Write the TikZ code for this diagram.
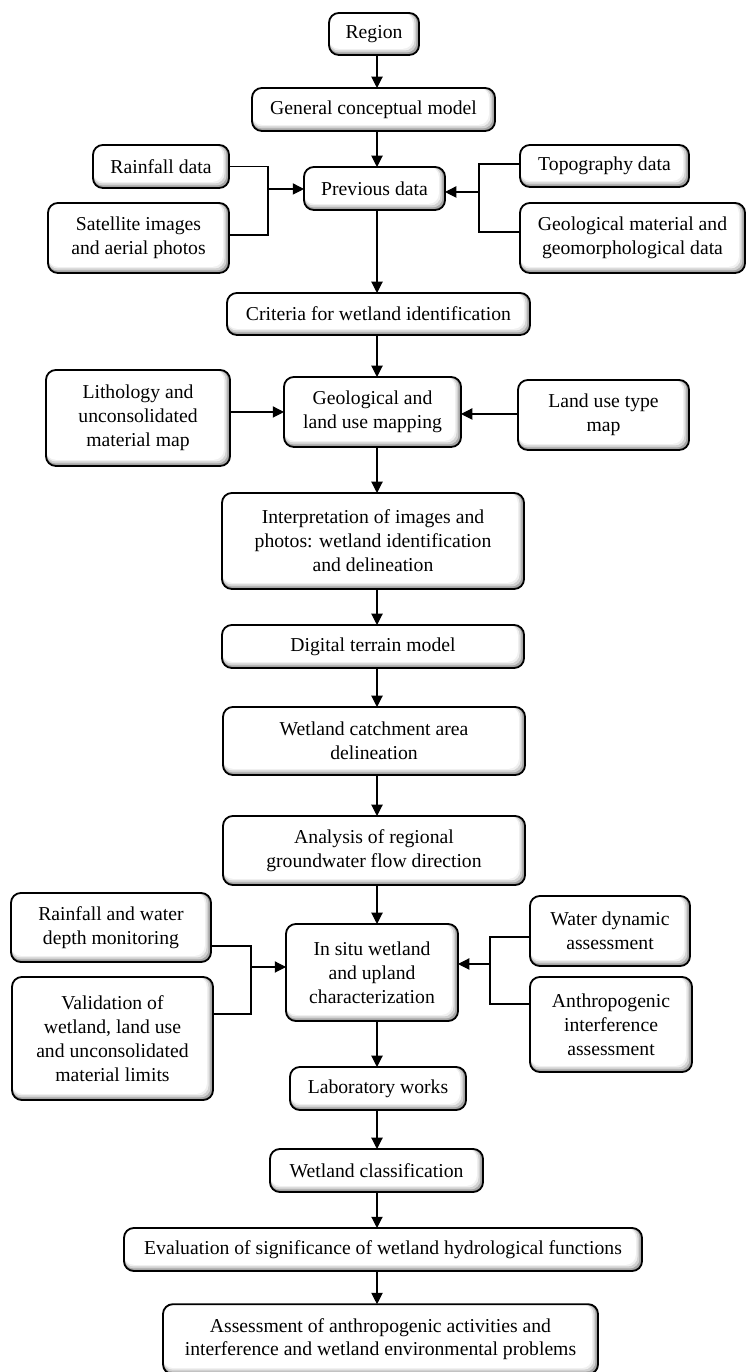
\documentclass[tikz,border=0pt]{standalone}
\usepackage{fontspec}
\setmainfont{Liberation Serif}
\usetikzlibrary{arrows.meta}
\tikzset{
  stepbox/.style={draw, line width=1.3pt, rounded corners=7pt, align=center, inner sep=0pt, outer sep=0pt,
    font=\fontsize{14}{17}\selectfont,
    path picture={
      \fill[gray!70] (path picture bounding box.south west) rectangle (path picture bounding box.north east);
      \fill[gray!35, rounded corners=7pt] ([yshift=1.8pt]path picture bounding box.south west) rectangle ([xshift=-1.8pt]path picture bounding box.north east);
      \fill[gray!12, rounded corners=7pt] ([yshift=3.2pt]path picture bounding box.south west) rectangle ([xshift=-3.2pt]path picture bounding box.north east);
      \fill[white, rounded corners=7pt] ([yshift=4.4pt]path picture bounding box.south west) rectangle ([xshift=-4.4pt]path picture bounding box.north east);
    }},
  arr/.style={-{Triangle[length=8pt,width=8pt]}, line width=0.8pt},
  link/.style={line width=0.8pt}
}
\begin{document}
\begin{tikzpicture}
\useasboundingbox (0,0) rectangle (18.675,34.3);
\coordinate (cx) at (9.425,0);
\node[stepbox,minimum width=2.25cm,minimum height=1.05cm] (region) at (9.35,33.45) {Region};
\node[stepbox,minimum width=6.075cm,minimum height=1.075cm] (gcm) at (9.3375,31.5625) {General conceptual model};
\node[stepbox,minimum width=3.4cm,minimum height=1.075cm] (rain) at (4.025,30.1375) {Rainfall data};
\node[stepbox,minimum width=4.525cm,minimum height=1.75cm] (sat) at (3.4625,28.35) {Satellite images\\and aerial photos};
\node[stepbox,minimum width=3.525cm,minimum height=1.075cm] (prev) at (9.3625,29.5875) {Previous data};
\node[stepbox,minimum width=4.225cm,minimum height=1.05cm] (topo) at (15.1125,30.15) {Topography data};
\node[stepbox,minimum width=5.625cm,minimum height=1.75cm] (geo) at (15.8125,28.35) {Geological material and\\geomorphological data};
\node[stepbox,minimum width=7.575cm,minimum height=1.05cm] (crit) at (9.4625,26.45) {Criteria for wetland identification};
\node[stepbox,minimum width=4.6cm,minimum height=2.4cm] (lith) at (3.45,23.85) {Lithology and\\unconsolidated\\material map};
\node[stepbox,minimum width=4.425cm,minimum height=1.75cm] (map) at (9.3125,24.0) {Geological and\\land use mapping};
\node[stepbox,minimum width=4.275cm,minimum height=1.75cm] (landuse) at (15.0875,23.925) {Land use type\\map};
\node[stepbox,minimum width=7.55cm,minimum height=2.4cm] (interp) at (9.325,20.775) {Interpretation of images and\\photos: wetland identification\\and delineation};
\node[stepbox,minimum width=7.55cm,minimum height=1.075cm] (dtm) at (9.325,18.1375) {Digital terrain model};
\node[stepbox,minimum width=7.55cm,minimum height=1.7cm] (catch) at (9.35,15.775) {Wetland catchment area\\delineation};
\node[stepbox,minimum width=7.55cm,minimum height=1.725cm] (flow) at (9.35,13.0375) {Analysis of regional\\groundwater flow direction};
\node[stepbox,minimum width=5.0cm,minimum height=1.725cm] (rainmon) at (2.775,11.1125) {Rainfall and water\\depth monitoring};
\node[stepbox,minimum width=5.025cm,minimum height=3.075cm] (valid) at (2.8125,8.3375) {Validation of\\wetland, land use\\and unconsolidated\\material limits};
\node[stepbox,minimum width=4.3cm,minimum height=2.425cm] (insitu) at (9.3,9.9875) {In situ wetland\\and upland\\characterization};
\node[stepbox,minimum width=4.0cm,minimum height=1.75cm] (waterdyn) at (15.25,11.025) {Water dynamic\\assessment};
\node[stepbox,minimum width=4.05cm,minimum height=2.375cm] (anthro) at (15.275,8.6875) {Anthropogenic\\interference\\assessment};
\node[stepbox,minimum width=4.4cm,minimum height=1.075cm] (lab) at (9.45,7.0875) {Laboratory works};
\node[stepbox,minimum width=5.325cm,minimum height=1.075cm] (classif) at (9.4125,5.0375) {Wetland classification};
\node[stepbox,minimum width=12.95cm,minimum height=1.075cm] (evalu) at (9.575,3.0625) {Evaluation of significance of wetland hydrological functions};
\node[stepbox,minimum width=10.875cm,minimum height=1.75cm] (assess) at (9.5125,0.82) {Assessment of anthropogenic activities and\\interference and wetland environmental problems};

\draw[arr] (region.south -| cx) -- (gcm.north -| cx);
\draw[arr] (gcm.south -| cx) -- (prev.north -| cx);
\draw[arr] (prev.south -| cx) -- (crit.north -| cx);
\draw[arr] (crit.south -| cx) -- (map.north -| cx);
\draw[arr] (map.south -| cx) -- (interp.north -| cx);
\draw[arr] (interp.south -| cx) -- (dtm.north -| cx);
\draw[arr] (dtm.south -| cx) -- (catch.north -| cx);
\draw[arr] (catch.south -| cx) -- (flow.north -| cx);
\draw[arr] (flow.south -| cx) -- (insitu.north -| cx);
\draw[arr] (insitu.south -| cx) -- (lab.north -| cx);
\draw[arr] (lab.south -| cx) -- (classif.north -| cx);
\draw[arr] (classif.south -| cx) -- (evalu.north -| cx);
\draw[arr] (evalu.south -| cx) -- (assess.north -| cx);

\coordinate (jl) at (6.7,29.575);
\coordinate (jr) at (11.975,29.5);
\draw[link] (rain.east) -| (jl) |- ([yshift=0.075cm]sat.east);
\draw[arr] (jl) -- (jl -| prev.west);
\draw[link] ([yshift=0.05cm]topo.west) -| (jr) |- ([yshift=0.15cm]geo.west);
\draw[arr] (jr) -- (jr -| prev.east);

\draw[arr] (lith.east |- map) -- (map.west);
\draw[arr] ([yshift=-0.05cm]landuse.west |- map) -- ([yshift=-0.05cm]map.east);

\coordinate (jl2) at (6.275,10.125);
\coordinate (jr2) at (12.25,10.2);
\draw[link] ([yshift=-0.4625cm]rainmon.east) -| (jl2) |- ([yshift=0.6125cm]valid.east);
\draw[arr] (jl2) -- (jl2 -| insitu.west);
\draw[link] ([yshift=-0.15cm]waterdyn.west) -| (jr2) |- ([yshift=0.5125cm]anthro.west);
\draw[arr] (jr2) -- (jr2 -| insitu.east);
\end{tikzpicture}
\end{document}
